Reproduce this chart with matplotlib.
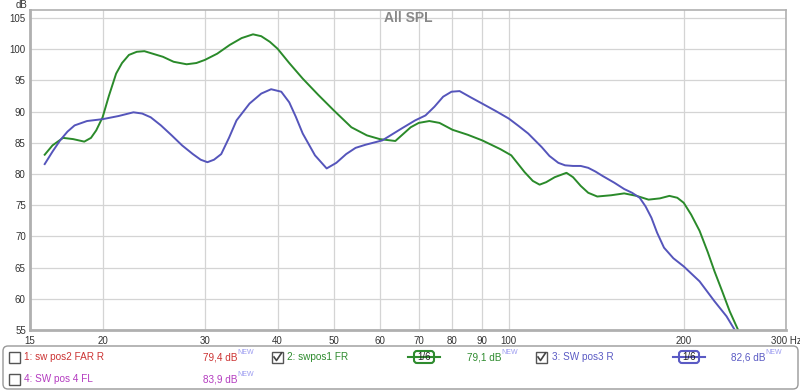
import matplotlib
matplotlib.use("Agg")
from matplotlib import pyplot as plt
from matplotlib.patches import FancyBboxPatch, Rectangle
from matplotlib.ticker import FixedLocator, NullLocator

plt.rcParams['font.family'] = ['Liberation Sans', 'DejaVu Sans']

# swpos1 FR (green)
green_freq = [15.9, 16.4, 17.1, 17.8, 18.6, 19.1, 19.5, 20, 20.5, 21.1, 21.6, 22.2,
              22.9, 23.6, 25.4, 26.5, 27.9, 29, 30, 31.5, 33.1, 34.7, 36.3, 37.5, 38.8,
              40, 41.9, 44.2, 47, 50, 53.6, 57, 60, 63.8, 67.8, 70, 73, 76, 80,
              85, 90, 96.7, 101, 106.5, 110, 113, 116, 120, 125.7, 129, 133, 137,
              142, 150, 158, 166, 174, 182, 189, 195, 200, 206, 213, 220, 226,
              233, 240, 249, 256]
green_db = [83.1, 84.6, 85.8, 85.6, 85.2, 85.8, 87.0, 89.1, 92.5, 96.1, 97.8, 99.1,
            99.6, 99.7, 98.8, 98.0, 97.6, 97.8, 98.3, 99.3, 100.7, 101.8, 102.4, 102.1, 101.2,
            100.1, 97.8, 95.3, 92.7, 90.2, 87.5, 86.2, 85.6, 85.3, 87.5, 88.2, 88.5, 88.2, 87.1,
            86.3, 85.4, 84.0, 83.0, 80.3, 78.9, 78.3, 78.7, 79.5, 80.2, 79.5, 78.1, 77.0,
            76.4, 76.6, 76.9, 76.5, 75.9, 76.1, 76.5, 76.2, 75.4, 73.5, 70.9, 67.5, 64.4,
            61.2, 58.0, 54.7, 52.0]

# SW pos3 R (blue)
blue_freq = [15.9, 16.4, 16.9, 17.4, 17.9, 18.8, 20, 21.3, 22.6, 23.4, 24.2, 25.2,
             26.3, 27.4, 28.6, 29.5, 30.3, 31.1, 32, 33, 34, 35.8, 37.5, 39, 40.6,
             41.9, 43, 44.2, 46.4, 48.6, 50.5, 52.5, 54.5, 56.7, 60.6, 65.4, 69,
             71.9, 74.5, 77.1, 79.7, 82.3, 86, 90, 95, 100, 104, 108, 114, 117.5,
             121.7, 125, 129, 133, 137, 141, 145, 152, 158, 163, 168, 172, 176, 180, 185,
             192, 200, 213, 226, 237, 246, 252]
blue_db = [81.6, 83.6, 85.4, 86.8, 87.8, 88.5, 88.8, 89.3, 89.9, 89.7, 89.1, 87.8,
           86.2, 84.6, 83.2, 82.3, 81.9, 82.3, 83.2, 85.8, 88.6, 91.3, 92.9, 93.6, 93.2,
           91.5, 89.2, 86.5, 83.0, 80.9, 81.8, 83.2, 84.2, 84.7, 85.4, 87.3, 88.6,
           89.4, 90.8, 92.4, 93.2, 93.3, 92.3, 91.3, 90.1, 88.9, 87.7, 86.5, 84.3, 82.9,
           81.8, 81.4, 81.3, 81.3, 81.0, 80.4, 79.7, 78.6, 77.6, 77.0, 76.2, 74.8, 73.0, 70.6, 68.2,
           66.5, 65.2, 62.8, 59.6, 57.2, 54.7, 52.0]

x_ticks = [15, 20, 30, 40, 50, 60, 70, 80, 90, 100, 200, 300]
x_labels = ['15', '20', '30', '40', '50', '60', '70', '80', '90', '100', '200', '300 Hz']
y_ticks = [55, 60, 65, 70, 75, 80, 85, 90, 95, 100, 105]

# legend rows: (label, level, colour, checked, has smoothing icon)
legend_items = [
    ('1: sw pos2 FAR R', '79,4 dB', '#cc3333', False, False),
    ('2: swpos1 FR', '79,1 dB', '#2e8b2e', True, True),
    ('3: SW pos3 R', '82,6 dB', '#5a5ac4', True, True),
    ('4: SW pos 4 FL', '83,9 dB', '#b43cc0', False, False),
]

GREEN = '#2a8a2a'
BLUE = '#5555bb'
TXT = '#333333'


def checkbox(ax, x, y, checked):
    ax.add_patch(Rectangle((x, y), 11, 11, fill=False, ec='#555555', lw=1))
    if checked:
        ax.plot([x + 2, x + 4.5, x + 9.5], [y + 5.5, y + 9, y + 1.5],
                color='#444444', lw=1.2)


def smooth_icon(ax, x, y, color):
    ax.plot([x, x + 32], [y, y], color=color, lw=1.5)
    ax.add_patch(FancyBboxPatch((x + 6, y - 6), 20, 12,
                                boxstyle='round,pad=0,rounding_size=3',
                                fc='white', ec=color, lw=1.5))
    ax.text(x + 16, y, '1/6', fontsize=7, color='#222222',
            ha='center', va='center')


fig = plt.figure(figsize=(8, 3.91), dpi=100)
ax = fig.add_axes([30 / 800, 1 - 330 / 391, 756 / 800, 320 / 391])

ax.plot(green_freq, green_db, color=GREEN, lw=1.4)
ax.plot(blue_freq, blue_db, color=BLUE, lw=1.4)

ax.set_xscale('log')
ax.set_xlim(15, 300)
ax.set_ylim(55, 106.3)
ax.xaxis.set_major_locator(FixedLocator(x_ticks))
ax.xaxis.set_minor_locator(NullLocator())
ax.set_xticklabels(x_labels)
ax.set_yticks(y_ticks)
ax.tick_params(length=0, labelsize=7, colors=TXT, pad=3)
ax.tick_params(axis='x', pad=4)
ax.grid(True, color='#d4d4d4', lw=0.9)
for side, sp in ax.spines.items():
    sp.set_color('#b0b0b0')
    sp.set_linewidth(2 if side in ('left', 'bottom') else 1.2)

ax.text(0.5, 0.975, 'All SPL', transform=ax.transAxes, ha='center', va='center',
        fontsize=10, fontweight='bold', color='#888888')

# overlay in pixel coordinates for the legend panel
lg = fig.add_axes([0, 0, 1, 1])
lg.set_xlim(0, 800)
lg.set_ylim(391, 0)
lg.axis('off')
lg.patch.set_alpha(0)

lg.text(22, 5, 'dB', fontsize=7, color=TXT, ha='center', va='center')

lg.add_patch(FancyBboxPatch((3, 346), 795, 43,
                            boxstyle='round,pad=0,rounding_size=5',
                            fc='white', ec='#999999', lw=1))

cols = [(9, 24, 203, 237, None), (272, 287, 467, 501, 408), (536, 552, 731, 765, 673),
        (9, 24, 203, 237, None)]
rows = [357, 357, 357, 379]
for (label, level, color, checked, icon), (cx, tx, lx, nx, ix), ry in zip(legend_items, cols, rows):
    checkbox(lg, cx, ry - 5.5, checked)
    lg.text(tx, ry, label, fontsize=7.2, color=color, va='center')
    lg.text(lx, ry, level, fontsize=7.2, color=color, va='center')
    lg.text(nx, ry - 4, 'NEW', fontsize=5, color='#9a9af0', va='center')
    if icon:
        smooth_icon(lg, ix, ry, color)

fig.savefig('out.png', dpi=100)
